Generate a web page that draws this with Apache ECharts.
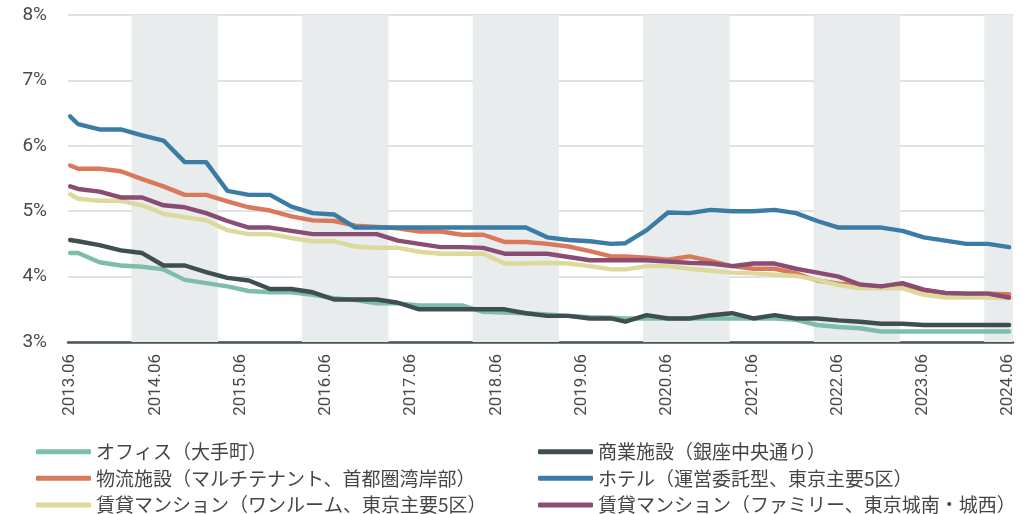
<!DOCTYPE html>
<html>
<head>
<meta charset="utf-8">
<script src="https://cdn.jsdelivr.net/npm/echarts@6/dist/echarts.min.js"></script>
<style>
html,body{margin:0;padding:0;background:#fff;}
#chart{width:1031px;height:514px;}
</style>
</head>
<body>
<div id="chart"></div>
<script>
const dates = ['2013-06-01','2013-07-05','2013-10-05','2014-01-05','2014-04-05','2014-07-05','2014-10-05','2015-01-05','2015-04-05','2015-07-05','2015-10-05','2016-01-05','2016-04-05','2016-07-05','2016-10-05','2017-01-05','2017-04-05','2017-07-05','2017-10-05','2018-01-05','2018-04-05','2018-07-05','2018-10-05','2019-01-05','2019-04-05','2019-07-05','2019-10-05','2019-12-05','2020-03-05','2020-06-05','2020-09-05','2020-12-05','2021-03-05','2021-06-05','2021-09-05','2021-12-05','2022-03-05','2022-06-05','2022-09-05','2022-12-05','2023-03-05','2023-06-05','2023-09-05','2023-12-05','2024-03-05','2024-06-05'];

const office = [4.36,4.36,4.22,4.17,4.15,4.11,3.95,3.90,3.85,3.78,
  3.76,3.76,3.72,3.67,3.64,3.59,3.59,3.56,3.56,3.56,
  3.46,3.45,3.44,3.42,3.40,3.38,3.37,3.36,3.36,3.36,
  3.36,3.36,3.36,3.36,3.36,3.34,3.26,3.23,3.21,3.16,
  3.16,3.16,3.16,3.16,3.16,3.16];
const retail = [4.56,4.54,4.48,4.40,4.36,4.17,4.17,4.07,3.98,3.94,
  3.81,3.81,3.76,3.65,3.65,3.65,3.60,3.50,3.50,3.50,
  3.50,3.50,3.44,3.40,3.40,3.36,3.36,3.31,3.41,3.36,
  3.36,3.41,3.44,3.36,3.41,3.36,3.36,3.33,3.31,3.28,
  3.28,3.26,3.26,3.26,3.26,3.26];
const logistics = [5.70,5.65,5.65,5.61,5.49,5.38,5.25,5.25,5.15,5.06,
  5.01,4.92,4.86,4.85,4.78,4.76,4.74,4.69,4.69,4.64,
  4.64,4.53,4.53,4.50,4.46,4.39,4.31,4.31,4.29,4.26,
  4.31,4.24,4.16,4.12,4.12,4.05,3.94,3.89,3.87,3.85,
  3.87,3.79,3.75,3.74,3.74,3.73];
const hotel = [6.45,6.33,6.25,6.25,6.16,6.08,5.75,5.75,5.31,5.25,
  5.25,5.07,4.97,4.95,4.75,4.75,4.75,4.75,4.75,4.75,
  4.75,4.75,4.75,4.60,4.56,4.54,4.50,4.51,4.71,4.98,
  4.97,5.02,5.00,5.00,5.02,4.97,4.85,4.75,4.75,4.75,
  4.70,4.60,4.55,4.50,4.50,4.45];
const oneRoom = [5.26,5.19,5.16,5.16,5.09,4.96,4.91,4.86,4.71,4.65,
  4.65,4.59,4.54,4.54,4.46,4.44,4.44,4.38,4.35,4.35,
  4.35,4.20,4.20,4.21,4.20,4.16,4.11,4.11,4.16,4.16,
  4.12,4.09,4.06,4.05,4.03,4.01,3.95,3.87,3.82,3.82,
  3.82,3.72,3.68,3.68,3.68,3.67];
const family = [5.38,5.34,5.30,5.21,5.21,5.09,5.06,4.97,4.85,4.75,
  4.75,4.70,4.65,4.65,4.65,4.65,4.55,4.50,4.45,4.45,
  4.44,4.35,4.35,4.35,4.30,4.25,4.25,4.25,4.25,4.23,
  4.21,4.20,4.16,4.20,4.20,4.12,4.06,4.00,3.88,3.85,
  3.90,3.80,3.75,3.74,3.74,3.68];

const seriesNames = ['オフィス（大手町）','商業施設（銀座中央通り）','物流施設（マルチテナント、首都圏湾岸部）','ホテル（運営委託型、東京主要5区）','賃貸マンション（ワンルーム、東京主要5区）','賃貸マンション（ファミリー、東京城南・城西）'];
const seriesValues = [office, retail, logistics, hotel, oneRoom, family];
const seriesColors = ['#7dbeaa','#3f4f51','#d9785a','#3b7ca6','#dcd99a','#8a4c73'];

const xTickLabels = ['2013.06','2014.06','2015.06','2016.06','2017.06','2018.06','2019.06','2020.06','2021.06','2022.06','2023.06','2024.06'];

const bandStarts = ['2014-02-20','2016-02-20','2018-02-20','2020-02-20','2022-02-20','2024-02-20'];
const bandEnds   = ['2015-02-25','2017-02-25','2019-02-25','2021-02-25','2023-02-25','2024-06-21'];

const yTicks = {min: 3, max: 8, step: 1};

function toMonth(s){
  const p = s.split(/[-.]/).map(Number);
  return (p[0]-2013)*12 + (p[1]-6) + ((p[2] || 1)-1)/30;
}
const xTickValues = xTickLabels.map(toMonth);
const xLabelMap = {};
xTickValues.forEach((v, i) => { xLabelMap[v.toFixed(3)] = xTickLabels[i]; });

const chart = echarts.init(document.getElementById('chart'), null, {renderer:'canvas'});

const series = seriesNames.map((name, k) => ({
  name: name,
  type: 'line',
  data: dates.map((d, i) => [toMonth(d), seriesValues[k][i]]),
  showSymbol: false,
  symbol: 'none',
  color: seriesColors[k],
  lineStyle: {width: 4.4, color: seriesColors[k], cap: 'round', join: 'round'},
  animation: false,
  z: 2 + k
}));

series.unshift({
  name: 'bands',
  type: 'line',
  data: [],
  z: -1,
  silent: true,
  animation: false,
  markArea: {
    silent: true,
    itemStyle: {color: '#e8eced'},
    data: bandStarts.map((s, i) => [{xAxis: toMonth(s)}, {xAxis: toMonth(bandEnds[i])}])
  }
});

const legendText = {fontFamily: '"Noto Sans CJK JP", sans-serif', fontSize: 19, color: '#454545', lineHeight: 20};
const legendCols = [36, 538];
const legendRows = [441.7, 468.3, 495];
const legends = seriesNames.map((name, k) => ({
  orient: 'horizontal',
  left: legendCols[k % 2],
  top: legendRows[Math.floor(k / 2)],
  padding: 0,
  itemWidth: 55,
  itemHeight: 5,
  icon: 'roundRect',
  selectedMode: false,
  textStyle: legendText,
  data: [name]
}));

chart.setOption({
  animation: false,
  grid: {left: 68, right: 18, top: 15, bottom: 172, containLabel: false},
  xAxis: {
    type: 'value',
    min: -0.3,
    max: 132.68,
    axisLine: {show: true, onZero: false, lineStyle: {color: '#4a5556', width: 2.5}},
    axisTick: {show: false},
    splitLine: {show: false},
    axisLabel: {
      customValues: xTickValues,
      rotate: 90,
      margin: 12,
      fontFamily: 'Roboto, sans-serif',
      fontSize: 17,
      color: '#4a4a4a',
      formatter: v => xLabelMap[Number(v).toFixed(3)] || ''
    }
  },
  yAxis: {
    type: 'value',
    min: yTicks.min,
    max: yTicks.max,
    interval: yTicks.step,
    axisLine: {show: false},
    axisTick: {show: false},
    splitLine: {lineStyle: {color: '#d3d9d9', width: 1.5}},
    axisLabel: {
      margin: 21,
      fontFamily: 'Roboto, sans-serif',
      fontSize: 19,
      color: '#4a4a4a',
      formatter: '{value}%'
    }
  },
  legend: legends,
  series: series
});
</script>
</body>
</html>
